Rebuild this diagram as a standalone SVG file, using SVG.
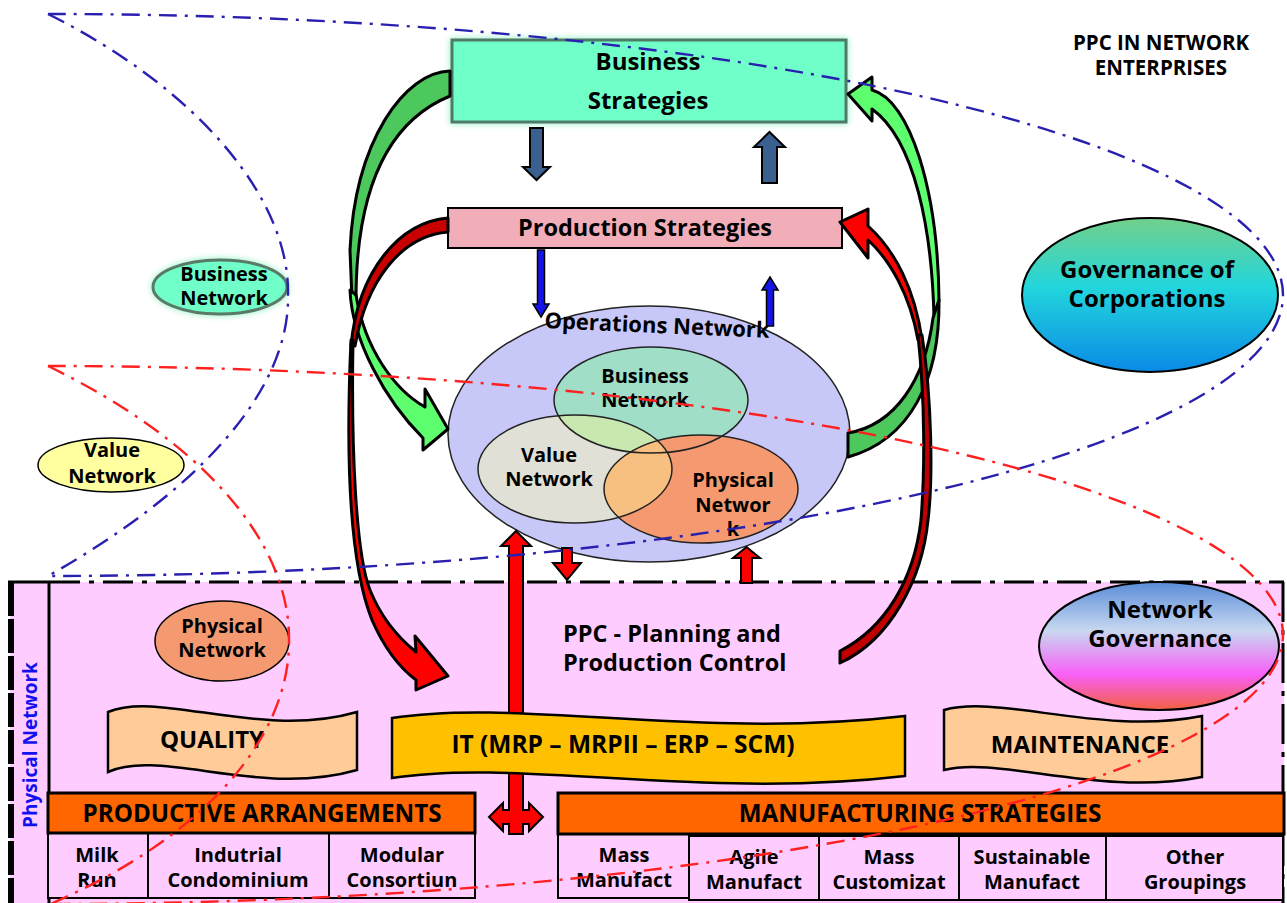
<svg xmlns="http://www.w3.org/2000/svg" width="1287" height="903" viewBox="0 0 1287 903">
<defs>
<style>
text{font-family:"Open Sans","Noto Sans","Liberation Sans",sans-serif;font-weight:700;fill:#000;text-anchor:middle}
.t20{font-size:20px}.t22{font-size:22px}.t23{font-size:23.5px}.t24{font-size:24px}.t19{font-size:19px}.t205{font-size:20.5px}.th{font-size:24.2px}.tit{font-size:24.5px}
.bd{fill:none;stroke:#2A20B0;stroke-width:2.4;stroke-dasharray:18,8,3,8}
.rd{fill:none;stroke:#FF2020;stroke-width:2.4;stroke-dasharray:18,8,3,8}
.big{stroke:#000;stroke-width:3;stroke-linejoin:round}
.sa{stroke:#000;stroke-width:2;stroke-linejoin:miter}
.cell{fill:#FFCCFF;stroke:#000;stroke-width:2}
.hdr{fill:#FF6600;stroke:#000;stroke-width:3}
.ban{stroke:#000;stroke-width:2.5}
</style>
<filter id="glow" x="-20%" y="-20%" width="140%" height="140%"><feGaussianBlur stdDeviation="3"/></filter>
<linearGradient id="gCorp" x1="0" y1="0" x2="0" y2="1"><stop offset="0" stop-color="#72D08A"/><stop offset="0.45" stop-color="#22D6DC"/><stop offset="1" stop-color="#0A8AE6"/></linearGradient>
<linearGradient id="gNet" x1="0" y1="0" x2="0" y2="1"><stop offset="0" stop-color="#5A8CD8"/><stop offset="0.38" stop-color="#C8D8F0"/><stop offset="0.72" stop-color="#F860F8"/><stop offset="1" stop-color="#F46040"/></linearGradient>
<clipPath id="cBus"><ellipse cx="651" cy="400" rx="97" ry="53"/></clipPath>
<clipPath id="cVal"><ellipse cx="575" cy="469" rx="97" ry="54"/></clipPath>
</defs>
<rect width="1287" height="903" fill="#fff"/>

<g id="physical-region">
<rect x="10" y="582" width="1274" height="321" fill="#FFCCFF"/>
<line x1="11" y1="582" x2="11" y2="903" stroke="#000" stroke-width="6" stroke-dasharray="34,3"/>
<line x1="8" y1="582" x2="50" y2="582" stroke="#000" stroke-width="3"/>
<line x1="49" y1="582" x2="49" y2="903" stroke="#000" stroke-width="3"/>
<line x1="50" y1="582" x2="1284" y2="582" stroke="#000" stroke-width="3" stroke-dasharray="30,9,5,9"/>
<line x1="1283" y1="582" x2="1283" y2="903" stroke="#000" stroke-width="3" stroke-dasharray="40,8,5,8"/>
<text class="t19" transform="translate(37,745) rotate(-90)" style="fill:#1010F0">Physical Network</text>
</g>

<g id="title"><text class="t205" x="1161" y="50">PPC IN NETWORK</text><text class="t205" x="1161" y="75">ENTERPRISES</text></g>

<g id="business-strategies">
<rect x="450" y="38" width="398" height="86" fill="#50E8A0" opacity="0.6" filter="url(#glow)"/>
<rect x="452" y="40" width="394" height="82" fill="#70FFC8" stroke="#4E7A68" stroke-width="3"/>
<text class="t24" x="648" y="70">Business</text><text class="t24" x="648" y="109">Strategies</text>
</g>

<g id="production-strategies">
<rect x="448" y="208" width="394" height="40" fill="#F2AEB8" stroke="#000" stroke-width="2"/>
<text class="t23" x="645" y="236">Production Strategies</text>
</g>

<g id="business-network-left">
<ellipse cx="220" cy="287" rx="69" ry="29" fill="#50E8A0" opacity="0.6" filter="url(#glow)"/>
<ellipse cx="220" cy="287" rx="67" ry="27" fill="#70FFC8" stroke="#5A7A68" stroke-width="3"/>
<text class="t20" x="224" y="281">Business</text><text class="t20" x="224" y="305">Network</text>
</g>

<g id="value-network-left">
<ellipse cx="111" cy="465" rx="73" ry="27" fill="#FFFFA0" stroke="#000" stroke-width="1.5"/>
<text class="t20" x="112" y="457">Value</text><text class="t20" x="112" y="483">Network</text>
</g>

<g id="governance-corporations">
<ellipse cx="1150" cy="295" rx="128" ry="77" fill="url(#gCorp)" stroke="#000" stroke-width="2"/>
<text class="t24" x="1147" y="278">Governance of</text><text class="t24" x="1147" y="307">Corporations</text>
</g>

<g id="network-governance">
<ellipse cx="1159" cy="646" rx="120" ry="64" fill="url(#gNet)" stroke="#000" stroke-width="2"/>
<text class="t24" x="1160" y="618">Network</text><text class="t24" x="1160" y="647">Governance</text>
</g>

<g id="operations-network">
<ellipse cx="649" cy="434" rx="201" ry="128" fill="#C8C8F8" stroke="#222" stroke-width="1.5"/>
<ellipse cx="651" cy="400" rx="97" ry="53" fill="#A0DEC8"/>
<ellipse cx="575" cy="469" rx="97" ry="54" fill="#E0E0D6"/>
<ellipse cx="575" cy="469" rx="97" ry="54" fill="#C8E8B0" clip-path="url(#cBus)"/>
<ellipse cx="701" cy="489" rx="97" ry="54" fill="#F59A70"/>
<ellipse cx="701" cy="489" rx="97" ry="54" fill="#F8C080" clip-path="url(#cVal)"/>
<g fill="none" stroke="#222" stroke-width="1.5">
<ellipse cx="651" cy="400" rx="97" ry="53"/><ellipse cx="575" cy="469" rx="97" ry="54"/><ellipse cx="701" cy="489" rx="97" ry="54"/>
</g>
<text class="t22" x="657" y="333" transform="rotate(2.5,657,327)">Operations Network</text>
<text class="t20" x="645" y="383">Business</text><text class="t20" x="645" y="407">Network</text>
<text class="t20" x="549" y="462">Value</text><text class="t20" x="549" y="486">Network</text>
<text class="t20" x="733" y="487">Physical</text><text class="t20" x="733" y="512">Networ</text><text class="t20" x="733" y="536">k</text>
</g>

<g id="physical-network-left">
<ellipse cx="222" cy="641" rx="67" ry="40" fill="#F59A70" stroke="#000" stroke-width="1.5"/>
<text class="t20" x="222" y="633">Physical</text><text class="t20" x="222" y="657">Network</text>
</g>

<g id="ppc"><text class="t23" x="563" y="642" style="text-anchor:start">PPC - Planning and</text><text class="t23" x="563" y="671" style="text-anchor:start">Production Control</text></g>

<g id="quality">
<path class="ban" d="M108,712 C 160,690 260,740 357,712 L 357,770 C 260,798 160,748 108,772 Z" fill="#FFCC99"/>
<text class="t24" x="212" y="748">QUALITY</text>
</g>

<g id="maintenance">
<path class="ban" d="M944,710 C 1000,694 1100,736 1202,716 L 1202,777 C 1100,797 1000,756 944,770 Z" fill="#FFCC99"/>
<text class="t24" x="1080" y="753">MAINTENANCE</text>
</g>

<g id="productive-arrangements">
<rect class="cell" x="48" y="833" width="427" height="65"/>
<line x1="148" y1="833" x2="148" y2="898" stroke="#000" stroke-width="2"/>
<line x1="329" y1="833" x2="329" y2="898" stroke="#000" stroke-width="2"/>
<rect class="hdr" x="48" y="793" width="427" height="40"/>
<text class="th" x="262" y="822">PRODUCTIVE ARRANGEMENTS</text>
<text class="t20" x="97" y="862">Milk</text><text class="t20" x="97" y="887">Run</text>
<text class="t20" x="238" y="862">Indutrial</text><text class="t20" x="238" y="887">Condominium</text>
<text class="t20" x="402" y="862">Modular</text><text class="t20" x="402" y="887">Consortiun</text>
</g>

<g id="manufacturing-strategies">
<rect class="cell" x="558" y="833" width="131" height="65"/>
<rect class="cell" x="689" y="836" width="594" height="64"/>
<line x1="819" y1="836" x2="819" y2="900" stroke="#000" stroke-width="2"/>
<line x1="959" y1="836" x2="959" y2="900" stroke="#000" stroke-width="2"/>
<line x1="1106" y1="836" x2="1106" y2="900" stroke="#000" stroke-width="2"/>
<rect class="hdr" x="558" y="793" width="726" height="41"/>
<text class="th" x="920" y="822">MANUFACTURING STRATEGIES</text>
<text class="t20" x="624" y="862">Mass</text><text class="t20" x="624" y="887">Manufact</text>
<text class="t20" x="754" y="864">Agile</text><text class="t20" x="754" y="889">Manufact</text>
<text class="t20" x="889" y="864">Mass</text><text class="t20" x="889" y="889">Customizat</text>
<text class="t20" x="1032" y="864">Sustainable</text><text class="t20" x="1032" y="889">Manufact</text>
<text class="t20" x="1195" y="864">Other</text><text class="t20" x="1195" y="889">Groupings</text>
</g>

<g id="connectors">
<polygon class="sa" fill="#FF0000" points="516,531 531,546 523,546 523,810 529,810 529,803 543,817 529,831 529,824 523,824 523,834 509,834 509,824 503,824 503,831 489,817 503,803 503,810 509,810 509,546 501,546"/>
<polygon class="sa" fill="#3A6090" points="530,128 543,128 543,167 550,167 536.5,180 523,167 530,167"/>
<polygon class="sa" fill="#3A6090" points="769.5,132 785,147 777,147 777,183 762,183 762,147 754,147"/>
<polygon fill="#1414E8" stroke="#000" stroke-width="1.5" points="537.5,250 544.5,250 544.5,304 549,304 541,317 533,304 537.5,304"/>
<polygon fill="#1414E8" stroke="#000" stroke-width="1.5" points="770,277 778,290 773.5,290 773.5,326 766.5,326 766.5,290 762,290"/>
<polygon class="sa" fill="#FF0000" points="562,548 572,548 572,563 581,563 567,580 553,563 562,563"/>
<polygon class="sa" fill="#FF0000" points="746.5,547 760,558 752,558 752,583 741,583 741,558 733,558"/>
<path class="big" fill="#4CC85C" d="M450,71 C 405,72 355,140 350,250 L 352,300 L 356,300 C 356,220 372,128 450,96 Z"/>
<path class="big" fill="#5EFF6E" d="M350,290 C 352,340 385,400 423,438 L 423,450 L 448,429 L 425,389 L 425,407 C 395,390 365,350 356,295 Z"/>
<path class="big" fill="#C80000" d="M448,218 C 400,222 358,270 351,346 L 355,346 C 366,282 400,236 448,232 Z"/>
<path class="big" fill="#FF0000" d="M351,340 C 346,450 348,560 372,620 C 385,650 400,668 416,680 L 416,690 L 448,676 L 415,636 L 416,652 C 395,635 380,615 370,590 C 356,555 351,450 353,340 Z"/>
<path class="big" fill="#5EFF6E" d="M848,94 L 872,77 L 872,90 C 910,100 938,190 939,300 L 934,318 C 932,230 915,140 872,109 L 872,121 Z"/>
<path class="big" fill="#4CC85C" d="M939,300 C 940,380 910,440 848,457 L 848,433 C 895,425 925,380 933,318 Z"/>
<path class="big" fill="#FF0000" d="M840,222 L 868,209 L 868,226 C 895,250 915,290 922,340 L 918,340 C 910,295 890,260 868,240 L 868,258 Z"/>
<path class="big" fill="#C00000" d="M922,335 C 932,400 933,480 928,520 C 922,580 890,640 840,663 L 840,651 C 885,628 914,580 921,520 C 925,470 925,400 918,335 Z"/>
</g>

<g id="it">
<path class="ban" d="M392,718 C 520,698 700,740 905,716 L 905,776 C 700,800 520,758 392,778 Z" fill="#FFC000"/>
<text class="tit" x="623" y="753">IT (MRP – MRPII – ERP – SCM)</text>
</g>

<g id="network-boundaries">
<path class="bd" d="M48,14 A1235,281 0 0 1 48,576"/>
<path class="bd" d="M48,14 C 200,90 290,200 288,295 C 290,390 200,490 48,576"/>
<path class="rd" d="M48,366 A1235,269 0 0 1 48,904"/>
<path class="rd" d="M48,366 C 200,440 290,540 289,640 C 290,740 200,840 48,905"/>
</g>
</svg>
